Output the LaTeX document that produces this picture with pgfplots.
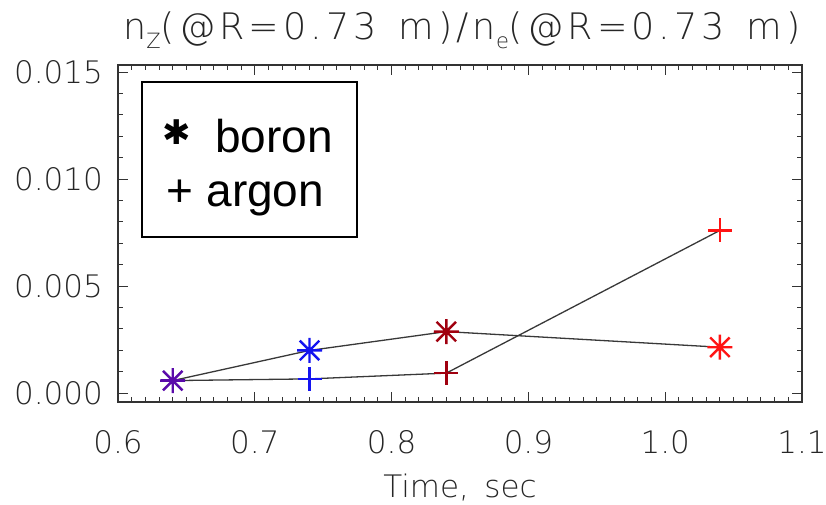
\documentclass[border=0pt]{standalone}
\usepackage{pgfplots}
\pgfplotsset{compat=1.18}
\usepackage{fontspec}
\setmainfont{Liberation Sans}
\newfontfamily\hersh{DejaVu Sans ExtraLight}
\newfontfamily\hershT{DejaVu Sans ExtraLight}[LetterSpace=11]
\newfontfamily\symf{DejaVu Sans}
\definecolor{cpur}{HTML}{5A0AAA}
\definecolor{cblu}{HTML}{1414F0}
\definecolor{cdred}{HTML}{A0000F}
\definecolor{cred}{HTML}{FF1414}
\pgfdeclareplotmark{ast8}{%
 \pgfpathmoveto{\pgfqpoint{-\pgfplotmarksize}{0pt}}\pgfpathlineto{\pgfqpoint{\pgfplotmarksize}{0pt}}%
 \pgfpathmoveto{\pgfqpoint{0pt}{-\pgfplotmarksize}}\pgfpathlineto{\pgfqpoint{0pt}{\pgfplotmarksize}}%
 \pgfpathmoveto{\pgfqpoint{-0.78\pgfplotmarksize}{-0.78\pgfplotmarksize}}\pgfpathlineto{\pgfqpoint{0.78\pgfplotmarksize}{0.78\pgfplotmarksize}}%
 \pgfpathmoveto{\pgfqpoint{-0.78\pgfplotmarksize}{0.78\pgfplotmarksize}}\pgfpathlineto{\pgfqpoint{0.78\pgfplotmarksize}{-0.78\pgfplotmarksize}}%
 \pgfusepathqstroke}
\pgfplotsset{
 star/.style={only marks, mark=ast8, mark size=12.5bp, line width=2.4bp, color=#1},
 plus/.style={only marks, mark=+, mark size=12bp, line width=2.4bp, color=#1},
}
\begin{document}
\begin{tikzpicture}
\begin{axis}[
 scale only axis, width=684bp, height=337bp,
 xmin=0.6, xmax=1.1, ymin=-0.00042, ymax=0.01533,
 xtick={0.6,0.7,0.8,0.9,1.0,1.1},
 xticklabels={0.6,0.7,0.8,0.9,1.0,1.1},
 ytick={0,0.005,0.010,0.015},
 yticklabels={0.000,0.005,0.010,0.015},
 scaled y ticks=false, scaled x ticks=false,
 /pgf/number format/assume math mode=true,
 minor x tick num=9, minor y tick num=4,
 tick align=inside,
 major tick length=10bp, minor tick length=5bp,
 axis line style={line width=1.4bp, draw=black!80},
 every tick/.style={line width=1bp, black!80},
 ticklabel style={font=\hersh\fontsize{31bp}{31bp}\selectfont, text=black!85},
 xticklabel style={anchor=base, yshift=-51bp},
 yticklabel style={anchor=east, inner sep=0pt, xshift=-15bp},
 title={n\raisebox{-0.45ex}{\fontsize{21bp}{21bp}\selectfont Z}(@R=0.73\hspace{0.6em}m)/n\raisebox{-0.45ex}{\fontsize{21bp}{21bp}\selectfont e}(@R=0.73\hspace{0.6em}m)},
 title style={at={(0.5,1)}, anchor=base, yshift=20bp, xshift=2bp, inner sep=0pt, font=\hershT\fontsize{36.5bp}{36.5bp}\selectfont, text=black!85},
 xlabel={Time,\hspace{0.5em}sec},
 xlabel style={at={(axis description cs:0.5,0)}, anchor=base, yshift=-95bp, inner sep=0pt, font=\hersh\fontsize{31bp}{31bp}\selectfont, text=black!85},
]
\coordinate (SW) at (rel axis cs:0,0);
% connecting lines
\addplot[line width=1.3bp, color=black!78] coordinates {(0.64,0.00058) (0.74,0.00199) (0.84,0.00287) (1.04,0.00214)};
\addplot[line width=1.3bp, color=black!78] coordinates {(0.64,0.00058) (0.74,0.00066) (0.84,0.00093) (1.04,0.00760)};
% argon (plus)
\addplot[plus=cpur] coordinates {(0.64,0.00058)};
\addplot[plus=cblu] coordinates {(0.74,0.00066)};
\addplot[plus=cdred] coordinates {(0.84,0.00093)};
\addplot[plus=cred] coordinates {(1.04,0.00760)};
% boron (asterisk)
\addplot[star=cpur] coordinates {(0.64,0.00058)};
\addplot[star=cblu] coordinates {(0.74,0.00199)};
\addplot[star=cdred] coordinates {(0.84,0.00287)};
\addplot[star=cred] coordinates {(1.04,0.00214)};
% legend
\draw[line width=2bp, fill=white] (rel axis cs:0.0347,0.4905) rectangle (rel axis cs:0.349,0.950);
\node[anchor=base west, inner sep=0pt, font=\fontsize{46bp}{46bp}\selectfont] at (rel axis cs:0.1418,0.7389) {boron};
\node[anchor=base west, inner sep=0pt, font=\fontsize{46bp}{46bp}\selectfont] at (rel axis cs:0.0712,0.5795) {+ argon};
\node[inner sep=0pt, font=\symf\fontsize{34bp}{34bp}\selectfont] at (rel axis cs:0.0855,0.7997) {✱};
\end{axis}
\pgfresetboundingbox
\path[use as bounding box] (SW) ++(-118bp,-103bp) rectangle ++(826bp,505bp);
\end{tikzpicture}
\end{document}
